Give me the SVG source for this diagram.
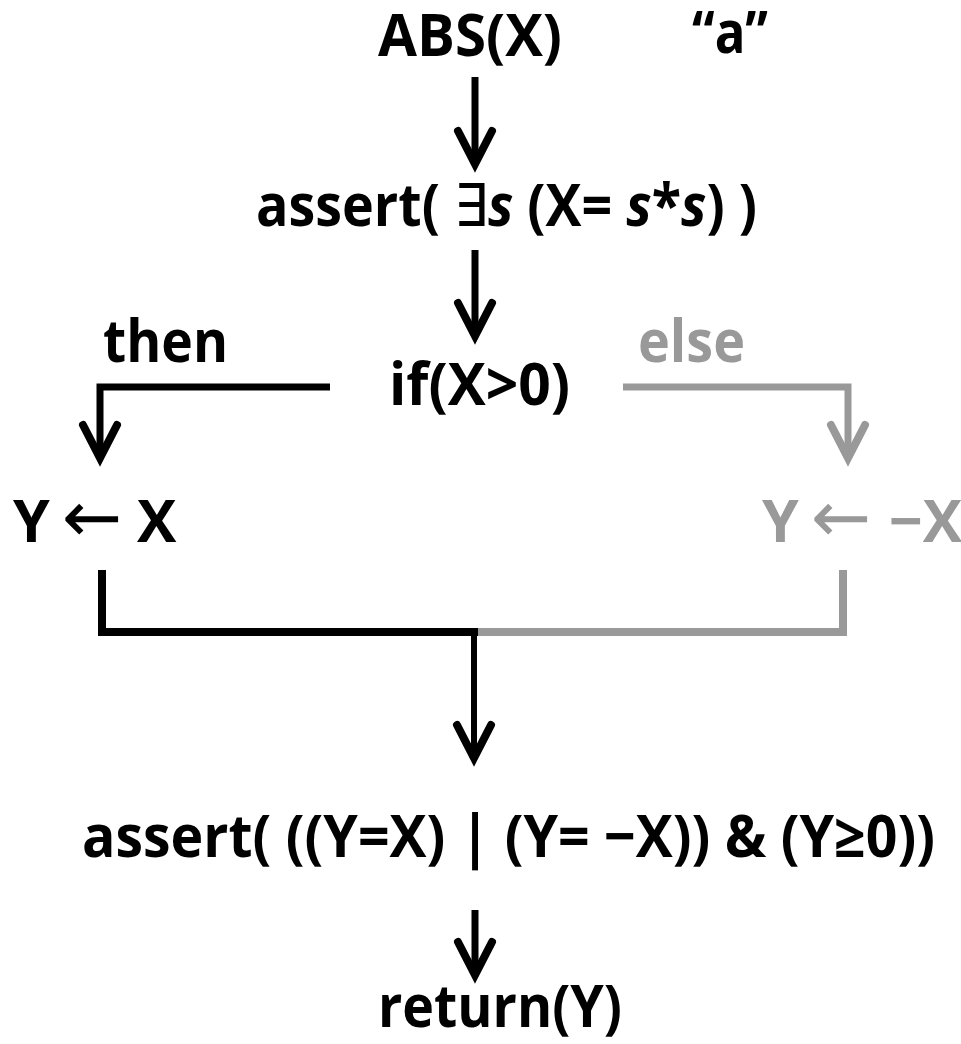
<svg xmlns="http://www.w3.org/2000/svg" width="961" height="1044" viewBox="0 0 961 1044">
<defs>
<style>
text{font-family:"Open Sans","Liberation Sans",sans-serif;font-weight:bold;font-size:59px;fill:#000}
.g{fill:#999}
.ln{fill:none;stroke:#000;stroke-width:7;stroke-linejoin:miter}
.lg{fill:none;stroke:#999;stroke-width:7;stroke-linejoin:miter}
.i{font-style:italic}
.arr{font-family:"DejaVu Sans",sans-serif;font-weight:normal;font-size:72px}
.ex{font-family:"DejaVu Sans",sans-serif;font-weight:normal}
</style>
<marker id="ah" markerUnits="userSpaceOnUse" orient="auto" markerWidth="50" markerHeight="50" refX="0" refY="0" viewBox="-45 -25 50 50" overflow="visible">
<path d="M-33,-17 L0,0 L-33,17" fill="none" stroke="#000" stroke-width="8" stroke-linecap="round" stroke-linejoin="miter"/>
</marker>
<marker id="ahg" markerUnits="userSpaceOnUse" orient="auto" markerWidth="50" markerHeight="50" refX="0" refY="0" viewBox="-45 -25 50 50" overflow="visible">
<path d="M-33,-17 L0,0 L-33,17" fill="none" stroke="#999" stroke-width="8" stroke-linecap="round" stroke-linejoin="miter"/>
</marker>
</defs>
<g id="connectors">
<line class="ln" x1="475" y1="77" x2="475" y2="164" marker-end="url(#ah)"/>
<line class="ln" x1="475" y1="250" x2="475" y2="336" marker-end="url(#ah)"/>
<polyline class="ln" points="330,387 100,387 100,458" marker-end="url(#ah)"/>
<polyline class="lg" points="623,387 848,387 848,458" marker-end="url(#ahg)"/>
<polyline class="lg" style="stroke-width:8" points="843,570 843,632 475,632"/>
<polyline class="ln" style="stroke-width:8" points="102,570 102,632 478,632"/>
<line class="ln" style="stroke-width:6" x1="474" y1="632" x2="474" y2="758" marker-end="url(#ah)"/>
<line class="ln" x1="475" y1="910" x2="475" y2="975" marker-end="url(#ah)"/>
</g>
<g id="abs"><text x="378" y="56" textLength="184" lengthAdjust="spacingAndGlyphs">ABS(X)</text></g>
<g id="label-a"><text x="692" y="53" textLength="76" lengthAdjust="spacingAndGlyphs">“a”</text></g>
<g id="assert1"><text x="256" y="226" textLength="501" lengthAdjust="spacingAndGlyphs">assert( <tspan class="ex">∃</tspan><tspan class="i">s</tspan> (X= <tspan class="i">s</tspan>*<tspan class="i">s</tspan>) )</text></g>
<g id="if"><text x="389" y="405" textLength="181" lengthAdjust="spacingAndGlyphs">if(X&gt;0)</text></g>
<g id="then"><text x="103" y="362" textLength="125" lengthAdjust="spacingAndGlyphs">then</text></g>
<g id="else"><text class="g" x="638" y="362" textLength="107" lengthAdjust="spacingAndGlyphs">else</text></g>
<g id="assign-then"><text y="542"><tspan x="13">Y</tspan><tspan x="62" class="arr">←</tspan><tspan x="137">X</tspan></text></g>
<g id="assign-else"><text class="g" y="542"><tspan x="762">Y</tspan><tspan x="811" class="arr">←</tspan><tspan x="889">−X</tspan></text></g>
<g id="assert2"><text x="82" y="857" textLength="853" lengthAdjust="spacingAndGlyphs">assert( ((Y=X) | (Y= −X)) &amp; (Y≥0))</text></g>
<g id="return"><text x="378" y="1027" textLength="244" lengthAdjust="spacingAndGlyphs">return(Y)</text></g>
</svg>
